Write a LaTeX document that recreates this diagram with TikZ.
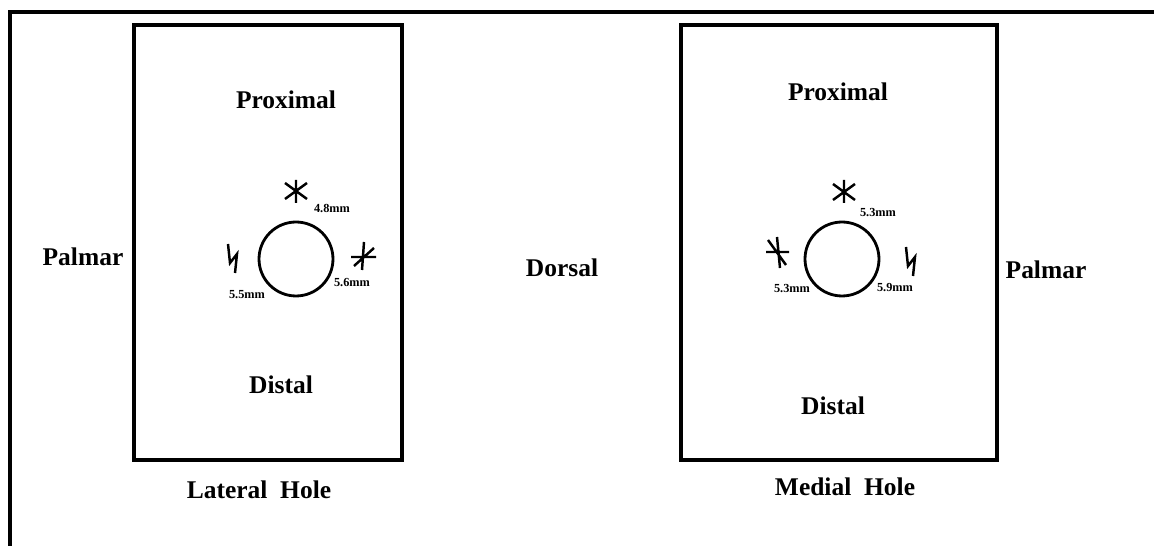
\documentclass[tikz,border=0pt]{standalone}
\usepackage{fontspec}
\setmainfont{Liberation Serif}
\usetikzlibrary{positioning}

\begin{document}
\begin{tikzpicture}[x=0.02cm,y=-0.02cm,
        side/.style={font=\bfseries\fontsize{14.5}{17}\selectfont,inner sep=1pt},
        size/.style={font=\bfseries\fontsize{7}{8}\selectfont,inner sep=0pt},
        hole/.style={circle,draw,line width=1.6pt,minimum size=1.48cm,inner sep=0pt},
        frame/.style={line width=1.9pt},
        mark line/.style={line width=1.4pt}]
    \useasboundingbox (0,0) rectangle (1154,546);
    \draw[frame] (10,560) -- (10,12) -- (1170,12);
    \draw[frame] (134,25) rectangle (402,460);
    \draw[frame] (681,25) rectangle (997,460);

    % lateral hole
    \node[side] (lprox) at (286,100) {Proximal};
    \node[side] (ldist) at (281,385) {Distal};
    \node[side] (lname) at (259,490) {Lateral\hspace{0.5em}Hole};
    \node[hole] (lhole) at (296,259) {};
    \node[size] (l48) at (332,209) {4.8mm};
    \node[size] (l56) at (352,283) {5.6mm};
    \node[size] (l55) at (247,295) {5.5mm};
    \draw[mark line] (296,180) -- (296,203) (285,183) -- (307,199) (285,199) -- (307,183);
    \draw[mark line] (351,257) -- (376,257) (364,242) -- (362,270) (354,266) -- (374,248);
    \draw[mark line] (228,244) -- (230,263) -- (237,254) -- (235,273);

    % medial hole
    \node[side] (mprox) at (838,92) {Proximal};
    \node[side] (mdist) at (833,406) {Distal};
    \node[side] (mname) at (845,487) {Medial\hspace{0.5em}Hole};
    \node[hole] (mhole) at (842,259) {};
    \node[size] (m53a) at (878,213) {5.3mm};
    \node[size] (m53b) at (792,289) {5.3mm};
    \node[size] (m59) at (895,288) {5.9mm};
    \draw[mark line] (844,180) -- (844,203) (833,184) -- (855,200) (833,200) -- (855,184);
    \draw[mark line] (766,252) -- (789,252) (777,237) -- (780,268) (768,240) -- (786,265);
    \draw[mark line] (906,247) -- (908,266) -- (915,257) -- (913,276);

    % sides
    \node[side] (lpalm) at (83,257) {Palmar};
    \node[side] (dors) at (562,268) {Dorsal};
    \node[side] (rpalm) at (1046,270) {Palmar};
\end{tikzpicture}
\end{document}
